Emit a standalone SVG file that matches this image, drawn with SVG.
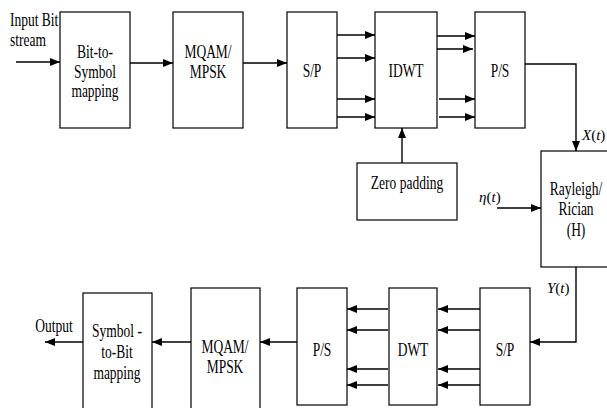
<svg xmlns="http://www.w3.org/2000/svg" width="607" height="408" viewBox="0 0 607 408">
<style>
.box{fill:#fff;stroke:#000;stroke-width:1.2}
.t{font-family:"Liberation Serif","Times New Roman",serif;font-size:18px;text-anchor:middle;fill:#000}
.s{text-anchor:start}
.m{font-family:"Liberation Serif","Times New Roman",serif;font-size:15px;fill:#000}
.c line,.c polyline{stroke:#000;stroke-width:1.4;fill:none;marker-end:url(#ah)}
</style>
<defs>
<marker id="ah" markerUnits="userSpaceOnUse" markerWidth="10" markerHeight="8" refX="10" refY="4" orient="auto">
<path d="M0,0 L10,4 L0,8 z" fill="#000"/>
</marker>
</defs>
<g id="bit2sym">
<rect class="box" x="60" y="12" width="70" height="116"/>
<text class="t" transform="translate(95,0) scale(0.75,1)" x="0" y="58">Bit-to-</text>
<text class="t" transform="translate(95,0) scale(0.75,1)" x="0" y="78">Symbol</text>
<text class="t" transform="translate(95,0) scale(0.75,1)" x="0" y="97">mapping</text>
</g>
<g id="input-label">
<text class="t s" transform="translate(10,0) scale(0.75,1)" x="0" y="26">Input Bit</text>
<text class="t s" transform="translate(10,0) scale(0.75,1)" x="0" y="46">stream</text>
</g>
<g id="mod">
<rect class="box" x="173" y="12" width="70" height="116"/>
<text class="t" transform="translate(208,0) scale(0.75,1)" x="0" y="58">MQAM/</text>
<text class="t" transform="translate(208,0) scale(0.75,1)" x="0" y="78">MPSK</text>
</g>
<g id="sp-top">
<rect class="box" x="287" y="12" width="50" height="116"/>
<text class="t" transform="translate(312,0) scale(0.75,1)" x="0" y="77">S/P</text>
</g>
<g id="idwt">
<rect class="box" x="375" y="12" width="62" height="116"/>
<text class="t" transform="translate(406,0) scale(0.75,1)" x="0" y="77">IDWT</text>
</g>
<g id="ps-top">
<rect class="box" x="475" y="12" width="50" height="116"/>
<text class="t" transform="translate(500,0) scale(0.75,1)" x="0" y="77">P/S</text>
</g>
<g id="zero-pad">
<rect class="box" x="357" y="163" width="100" height="57"/>
<text class="t" transform="translate(407,0) scale(0.75,1)" x="0" y="189">Zero padding</text>
</g>
<g id="channel">
<rect class="box" x="541" y="151" width="72" height="116"/>
<text class="t" transform="translate(576,0) scale(0.75,1)" x="0" y="195">Rayleigh/</text>
<text class="t" transform="translate(576,0) scale(0.75,1)" x="0" y="215">Rician</text>
<text class="t" transform="translate(576,0) scale(0.75,1)" x="0" y="236">(H)</text>
</g>
<g id="sp-bot">
<rect class="box" x="480" y="288" width="50" height="117"/>
<text class="t" transform="translate(505,0) scale(0.75,1)" x="0" y="356">S/P</text>
</g>
<g id="dwt">
<rect class="box" x="389" y="288" width="48" height="117"/>
<text class="t" transform="translate(413,0) scale(0.75,1)" x="0" y="356">DWT</text>
</g>
<g id="ps-bot">
<rect class="box" x="297" y="288" width="50" height="117"/>
<text class="t" transform="translate(322,0) scale(0.75,1)" x="0" y="356">P/S</text>
</g>
<g id="demod">
<rect class="box" x="191" y="288" width="69" height="125"/>
<text class="t" transform="translate(225,0) scale(0.75,1)" x="0" y="353">MQAM/</text>
<text class="t" transform="translate(225,0) scale(0.75,1)" x="0" y="373">MPSK</text>
</g>
<g id="sym2bit">
<rect class="box" x="83" y="293" width="69" height="120"/>
<text class="t" transform="translate(117,0) scale(0.75,1)" x="0" y="337">Symbol -</text>
<text class="t" transform="translate(117,0) scale(0.75,1)" x="0" y="358">to-Bit</text>
<text class="t" transform="translate(117,0) scale(0.75,1)" x="0" y="379">mapping</text>
</g>
<g id="output-label">
<text class="t" transform="translate(54,0) scale(0.75,1)" x="0" y="332">Output</text>
</g>
<g id="signal-labels">
<text class="m" x="582" y="140"><tspan font-style="italic">X</tspan>(<tspan font-style="italic">t</tspan>)</text>
<text class="m" x="479" y="202"><tspan font-style="italic">η</tspan>(<tspan font-style="italic">t</tspan>)</text>
<text class="m" x="547" y="293"><tspan font-style="italic">Y</tspan>(<tspan font-style="italic">t</tspan>)</text>
</g>
<g id="connectors" class="c">
<line x1="16" y1="62" x2="60" y2="62"/>
<line x1="130" y1="63" x2="173" y2="63"/>
<line x1="243" y1="63" x2="287" y2="63"/>
<line x1="337" y1="35" x2="375" y2="35"/>
<line x1="337" y1="58" x2="375" y2="58"/>
<line x1="337" y1="99" x2="375" y2="99"/>
<line x1="337" y1="117" x2="375" y2="117"/>
<line x1="437" y1="36" x2="475" y2="36"/>
<line x1="437" y1="49" x2="473" y2="49"/>
<line x1="439" y1="99" x2="475" y2="99"/>
<line x1="439" y1="117" x2="475" y2="117"/>
<line x1="402" y1="163" x2="402" y2="128"/>
<polyline points="525,64 576,64 576,151"/>
<line x1="497" y1="208" x2="541" y2="208"/>
<polyline points="576,267 576,342 530,342"/>
<line x1="480" y1="309" x2="438" y2="309"/>
<line x1="480" y1="330" x2="438" y2="330"/>
<line x1="480" y1="369" x2="438" y2="369"/>
<line x1="480" y1="385" x2="438" y2="385"/>
<line x1="388" y1="309" x2="347" y2="309"/>
<line x1="388" y1="330" x2="347" y2="330"/>
<line x1="388" y1="369" x2="347" y2="369"/>
<line x1="388" y1="385" x2="347" y2="385"/>
<line x1="297" y1="342" x2="260" y2="342"/>
<line x1="191" y1="342" x2="152" y2="342"/>
<line x1="83" y1="342" x2="45" y2="342"/>
</g>
</svg>
